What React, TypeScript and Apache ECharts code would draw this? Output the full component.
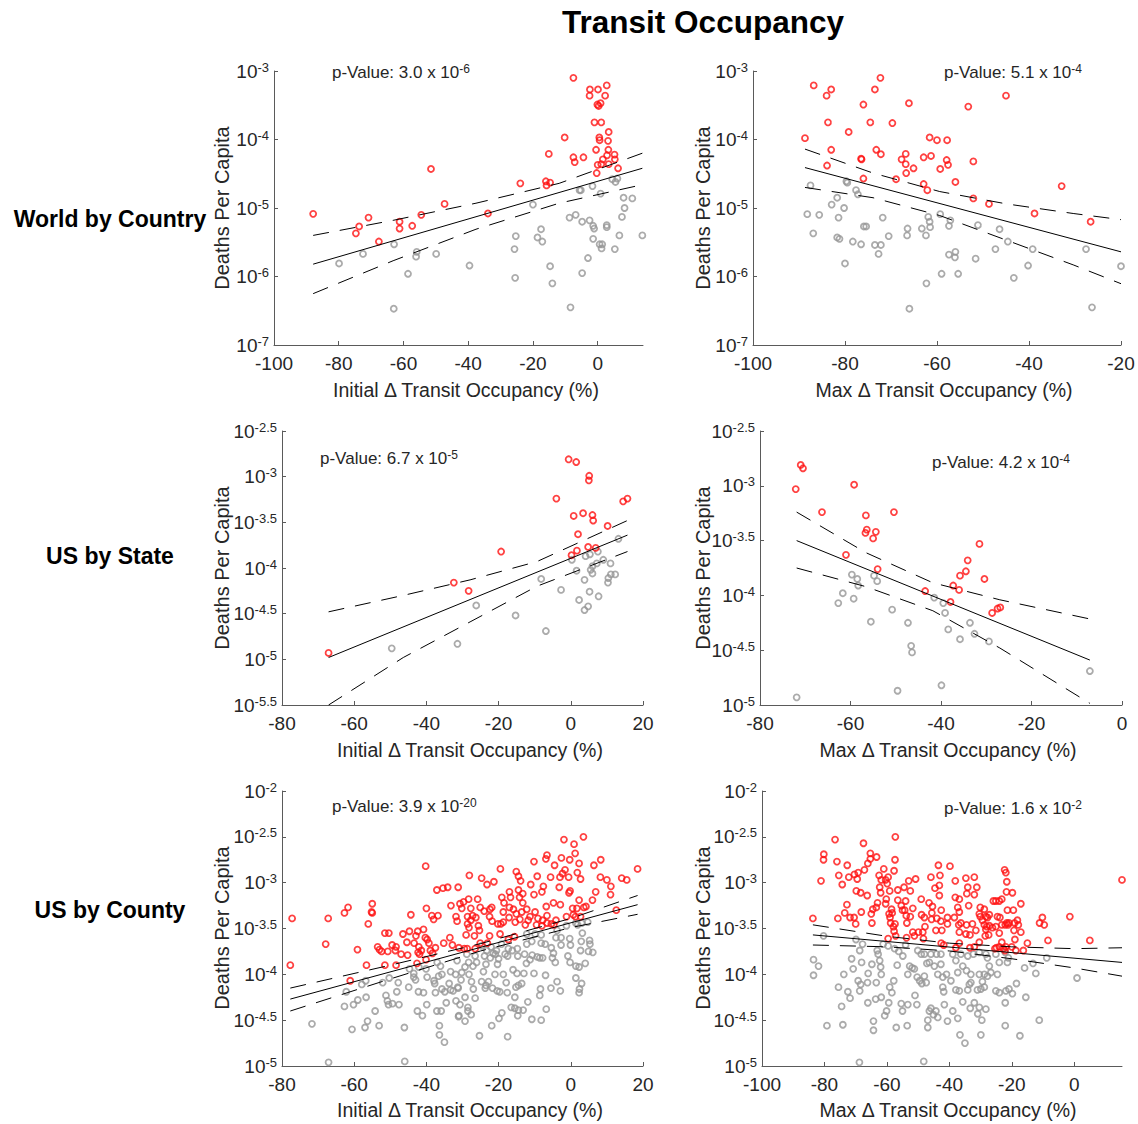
import React, { useEffect, useRef } from "react";
import * as echarts from "echarts";

// Points are [Δ transit occupancy (%), log10(deaths per capita)].
// "Above" points sit over the regression line (red), "Below" under it (gray).

// ---------- World by Country, initial change ----------
const countryInitialAbove = [
  [-87.9, -5.085], [-73.7, -5.27], [-74.7, -5.37], [-70.8, -5.14], [-67.6, -5.49], [-61.2, -5.2], [-61.2, -5.3],
  [-57.3, -5.26], [-54.5, -5.1], [-51.5, -4.43], [-47.3, -4.94], [-33.9, -5.08], [-23.9, -4.64], [-16.0, -4.61],
  [-15.8, -4.67], [-14.7, -4.63], [-15.1, -4.21], [-10.2, -3.97], [-7.5, -3.1], [-7.5, -4.26], [-7.1, -4.33],
  [-4.4, -4.26], [-2.4, -3.27], [-2.5, -3.36], [0.1, -3.27], [2.8, -3.21], [2.3, -3.36], [-0.1, -3.49], [0.3, -3.51],
  [0.9, -3.47], [-1.0, -3.75], [1.1, -3.75], [0.5, -3.97], [0.6, -4.01], [3.4, -3.89], [3.2, -4.02], [-0.5, -4.15],
  [3.3, -4.15], [5.2, -4.22], [2.9, -4.23], [1.6, -4.29], [5.3, -4.29], [0.0, -4.37], [1.1, -4.36], [3.4, -4.36],
  [-0.3, -4.49], [6.3, -4.42],
];
const countryInitialBelow = [
  [-79.9, -5.81], [-72.5, -5.67], [-62.9, -5.53], [-63.0, -6.47], [-58.6, -5.96], [-55.9, -5.64], [-56.1, -5.71],
  [-49.9, -5.67], [-39.6, -5.84], [-25.7, -5.6], [-25.3, -5.41], [-25.5, -6.02], [-20.0, -4.95], [-18.6, -5.43],
  [-17.5, -5.31], [-17.1, -5.49], [-14.7, -5.85], [-14.0, -6.1], [-8.7, -5.14], [-6.8, -5.1], [-8.4, -6.45],
  [-5.6, -4.74], [-5.2, -4.74], [-4.8, -5.2], [-4.8, -5.95], [-3.0, -5.73], [-2.5, -5.18], [-1.6, -4.68],
  [-1.4, -5.26], [-1.1, -5.3], [-1.4, -5.45], [0.9, -4.79], [0.6, -5.53], [1.4, -5.53], [1.2, -5.59], [2.8, -5.25],
  [2.8, -5.28], [4.5, -4.58], [5.5, -4.62], [6.1, -4.57], [5.3, -5.6], [6.7, -5.4], [7.5, -5.13], [8.3, -5.0],
  [8.0, -4.85], [10.7, -4.86], [13.8, -5.4],
];
const countryInitialFit = [[-87.9, -5.82], [13.8, -4.42]];
const countryInitialUpper = [[-87.9, -5.4], [-63.2, -5.18], [-37.6, -4.93], [-11.9, -4.64], [13.8, -4.2]];
const countryInitialLower = [[-87.9, -6.25], [-63.2, -5.77], [-37.6, -5.31], [-11.9, -4.93], [13.8, -4.66]];

// ---------- World by Country, maximum change ----------
const countryMaxAbove = [
  [-88.7, -3.98], [-86.8, -3.21], [-84.0, -3.36], [-83.0, -3.27], [-83.7, -3.75], [-83.0, -4.15], [-83.9, -4.38],
  [-79.2, -3.89], [-76.0, -3.49], [-76.5, -4.28], [-76.4, -4.29], [-76.0, -4.57], [-74.5, -3.75], [-73.5, -3.27],
  [-72.3, -3.1], [-73.2, -4.15], [-72.2, -4.215], [-69.7, -3.76], [-68.9, -4.58], [-67.7, -4.29], [-66.8, -4.21],
  [-66.8, -4.36], [-66.7, -4.49], [-66.1, -3.47], [-65.1, -4.42], [-62.9, -4.26], [-62.9, -4.65], [-62.1, -4.74],
  [-61.6, -3.97], [-61.3, -4.24], [-60.0, -4.01], [-59.3, -4.43], [-57.8, -4.01], [-57.9, -4.3], [-57.6, -4.37],
  [-56.0, -4.62], [-53.2, -3.52], [-52.1, -4.32], [-52.1, -4.86], [-48.7, -4.94], [-45.0, -3.36], [-38.8, -5.08],
  [-32.9, -4.68], [-26.6, -5.2],
];
const countryMaxBelow = [
  [-87.5, -4.67], [-88.2, -5.09], [-86.9, -5.37], [-85.6, -5.1], [-82.9, -4.95], [-81.7, -4.85], [-81.4, -5.14],
  [-81.7, -5.43], [-81.2, -5.45], [-80.2, -5.0], [-80.0, -5.81], [-79.7, -4.61], [-79.5, -4.63], [-78.3, -5.49],
  [-77.6, -4.74], [-77.2, -4.8], [-76.5, -5.53], [-75.9, -5.27], [-75.4, -5.27], [-73.5, -5.54], [-72.7, -5.67],
  [-72.2, -5.54], [-71.8, -5.14], [-70.5, -5.41], [-66.4, -5.3], [-66.5, -5.4], [-66.0, -6.47], [-63.3, -5.3],
  [-62.4, -5.4], [-62.3, -6.1], [-61.9, -5.13], [-61.6, -5.2], [-61.5, -5.28], [-59.3, -5.09], [-59.0, -5.96],
  [-57.1, -5.18], [-57.4, -5.26], [-57.4, -5.68], [-56.1, -5.72], [-56.0, -5.64], [-55.4, -5.96], [-51.6, -5.74],
  [-51.1, -5.25], [-47.3, -5.6], [-46.4, -5.31], [-44.6, -5.49], [-43.3, -6.02], [-40.2, -5.84], [-39.2, -5.6],
  [-27.6, -5.6], [-26.3, -6.45], [-20.0, -5.85],
];
const countryMaxFit = [[-88.7, -4.41], [-20, -5.64]];
const countryMaxUpper = [[-88.7, -4.14], [-73.9, -4.49], [-59.4, -4.76], [-44.9, -4.94], [-30.4, -5.08], [-20, -5.17]];
const countryMaxLower = [[-88.7, -4.7], [-73.9, -4.85], [-59.4, -5.11], [-44.9, -5.47], [-30.4, -5.83], [-20, -6.105]];

// ---------- US by State, initial change ----------
const stateInitialAbove = [
  [-67.1, -4.93], [-32.4, -4.16], [-28.3, -4.25], [-19.3, -3.82], [-4.0, -3.24], [-0.6, -2.81], [1.5, -2.84],
  [5.1, -2.99], [5.0, -3.04], [0.8, -3.43], [3.4, -3.4], [6.0, -3.42], [6.2, -3.48], [10.2, -3.54], [14.5, -3.27],
  [15.7, -3.24], [2.0, -3.63], [1.7, -3.81], [0.2, -3.86], [4.8, -3.77], [6.9, -3.78],
];
const stateInitialBelow = [
  [-49.6, -4.88], [-31.4, -4.83], [-26.2, -4.41], [-15.3, -4.52], [-8.2, -4.12], [-6.9, -4.69], [-2.7, -4.24],
  [0.3, -3.91], [1.6, -4.03], [3.8, -4.13], [2.3, -4.35], [3.8, -4.46], [4.8, -4.42], [5.2, -4.26], [4.1, -3.87],
  [5.3, -3.85], [7.5, -3.82], [5.5, -4.02], [6.0, -3.98], [6.0, -4.06], [7.2, -3.95], [9.0, -3.91], [11.0, -3.95],
  [7.7, -4.31], [10.4, -4.11], [10.3, -4.16], [11.1, -4.07], [12.3, -4.07], [13.2, -3.68],
];
const stateInitialFit = [[-67.1, -4.98], [15.7, -3.64]];
const stateInitialUpper = [[-67.1, -4.48], [-46.4, -4.3], [-27.9, -4.13], [-9.4, -3.93], [15.7, -3.48]];
const stateInitialLower = [[-67.1, -5.5], [-46.4, -4.98], [-27.9, -4.59], [-9.4, -4.2], [15.7, -3.82]];

// ---------- US by State, maximum change ----------
const stateMaxAbove = [
  [-72.1, -3.03], [-71.0, -2.81], [-70.5, -2.84], [-66.3, -3.24], [-59.2, -2.99], [-56.6, -3.27], [-56.4, -3.4],
  [-56.7, -3.43], [-54.4, -3.42], [-55.0, -3.48], [-50.4, -3.24], [-61.0, -3.63], [-54.0, -3.76], [-43.5, -3.96],
  [-37.9, -4.06], [-37.3, -3.91], [-36.0, -3.95], [-35.8, -3.82], [-34.5, -3.78], [-34.1, -3.68], [-31.5, -3.53],
  [-30.4, -3.85], [-28.7, -4.16], [-27.5, -4.12], [-26.9, -4.11],
];
const stateMaxBelow = [
  [-71.9, -4.93], [-62.7, -4.07], [-61.7, -3.98], [-59.7, -3.81], [-59.3, -4.03], [-58.5, -3.85], [-58.3, -3.91],
  [-55.5, -4.24], [-54.8, -3.82], [-54.1, -3.87], [-50.8, -4.13], [-49.6, -4.87], [-47.3, -4.25], [-46.6, -4.46],
  [-46.4, -4.52], [-41.5, -4.02], [-39.9, -4.82], [-39.5, -4.07], [-39.1, -4.16], [-38.4, -4.31], [-35.8, -4.4],
  [-33.6, -4.25], [-32.6, -4.35], [-29.4, -4.42], [-7.1, -4.69],
];
const stateMaxFit = [[-71.9, -3.5], [-7.1, -4.59]];
const stateMaxUpper = [[-71.9, -3.24], [-56.6, -3.61], [-41.8, -3.885], [-27.0, -4.04], [-7.1, -4.215]];
const stateMaxLower = [[-71.9, -3.75], [-56.6, -3.92], [-41.8, -4.14], [-27.0, -4.48], [-7.1, -4.985]];

// ---------- US by County, initial change ----------
const countyInitialAbove = [
  [-77.7, -3.9], [-77.2, -3.39], [-67.9, -3.67], [-67.2, -3.39], [-62.7, -3.33], [-61.7, -3.27], [-61.1, -4.07],
  [-59.1, -3.73], [-56.6, -3.9], [-56.1, -3.45], [-55.2, -3.32], [-55.0, -3.23], [-55.0, -3.33], [-53.5, -3.7],
  [-53.0, -3.73], [-52.4, -3.75], [-51.5, -3.55], [-50.4, -3.55], [-50.7, -3.75], [-51.5, -3.9], [-49.5, -3.68],
  [-48.4, -3.7], [-48.6, -3.74], [-48.4, -3.9], [-47.0, -3.78], [-46.5, -3.56], [-45.4, -3.65], [-45.2, -3.79],
  [-44.7, -3.53], [-44.3, -3.35], [-43.4, -3.66], [-42.9, -3.58], [-42.4, -3.53], [-42.1, -3.7], [-42.3, -3.76],
  [-42.6, -3.88], [-41.9, -3.78], [-41.4, -3.74], [-40.8, -3.51], [-40.2, -2.82], [-40.0, -3.28], [-40.3, -3.6],
  [-39.8, -3.62], [-40.1, -3.84], [-39.3, -3.66], [-38.5, -3.36], [-38.9, -3.74], [-38.3, -3.77], [-38.0, -3.4],
  [-37.5, -3.71], [-37.1, -3.08], [-36.8, -3.36], [-35.4, -3.06], [-35.2, -3.66], [-34.1, -3.05], [-33.5, -3.6],
  [-33.2, -3.25], [-32.8, -3.68], [-31.8, -3.37], [-31.5, -3.42], [-31.2, -3.05], [-31.0, -3.71],
  [-28.1, -2.92], [-24.7, -2.95], [-23.2, -3.02], [-21.3, -2.99], [-19.5, -2.85], [-15.1, -2.88], [-14.5, -2.93],
  [-13.9, -2.98], [-10.2, -2.77], [-9.3, -2.93], [-11.1, -3.02], [-10.2, -3.13], [-7.6, -3.04], [-8.0, -3.1],
  [-6.9, -2.74], [-6.6, -2.7], [-4.5, -2.81], [-5.6, -2.94], [-2.6, -2.73], [-1.9, -2.53], [0.9, -2.58],
  [3.5, -2.5], [1.2, -2.68], [-0.3, -2.75], [2.3, -2.79], [1.8, -2.89], [2.7, -2.96], [-1.6, -2.86], [-2.3, -2.9],
  [-3.0, -2.94], [-3.2, -3.05], [-0.6, -2.94], [-0.2, -3.09], [-0.5, -3.11], [6.4, -2.81], [8.3, -2.75],
  [8.2, -2.94], [10.0, -2.97], [11.1, -3.04], [11.0, -3.13], [14.1, -2.95], [15.5, -2.97], [18.5, -2.85],
  [12.6, -3.3], [6.9, -3.1], [6.0, -3.19], [4.2, -3.26], [2.3, -3.19], [1.7, -3.28], [2.7, -3.37], [0.5, -3.28],
  [0.7, -3.35], [-1.2, -3.37], [-2.9, -3.24], [-4.8, -3.22], [-6.8, -3.26], [-4.1, -3.41], [-5.4, -3.45],
  [-6.6, -3.36], [-7.8, -3.41], [-9.5, -3.46], [-8.0, -3.47], [-9.1, -3.39], [-9.9, -3.32], [-11.3, -3.37],
  [-11.8, -3.41], [-12.6, -3.46], [-12.2, -3.29], [-13.6, -3.32], [-13.3, -3.22], [-14.2, -3.16], [-13.3, -3.12],
  [-14.5, -3.08], [-17.0, -3.1], [-16.7, -3.16], [-18.5, -3.22], [-19.1, -3.16], [-17.0, -3.27], [-15.9, -3.29],
  [-15.1, -3.34], [-14.1, -3.4], [-15.4, -3.43], [-17.1, -3.38], [-18.7, -3.32], [-20.2, -3.45], [-19.4, -3.45],
  [-18.7, -3.43], [-21.8, -3.42], [-22.5, -3.37], [-24.0, -3.31], [-21.9, -3.27], [-22.4, -3.29], [-25.1, -3.27],
  [-25.8, -3.18], [-28.3, -3.18], [-29.7, -3.21], [-30.7, -3.23], [-30.2, -3.28], [-27.7, -3.28], [-27.2, -3.36],
  [-28.6, -3.37], [-27.7, -3.41], [-26.3, -3.38], [-25.6, -3.47], [-28.6, -3.45], [-28.2, -3.49], [-29.0, -3.57],
  [-26.7, -3.58], [-25.3, -3.52], [-22.5, -3.58], [-19.6, -3.56], [-17.3, -3.62], [-15.6, -3.59], [-25.1, -3.66],
  [-23.1, -3.66], [-26.5, -3.72], [-29.5, -3.72], [-28.7, -3.72], [-6.6, -3.44], [-4.7, -3.46], [1.3, -3.37],
  [3.6, -3.27],
];
const countyInitialBelow = [
  [-71.7, -4.54], [-67.1, -4.96], [-62.7, -4.35], [-62.2, -4.19], [-60.6, -4.6], [-60.2, -4.33], [-59.0, -4.28],
  [-57.9, -4.11], [-56.8, -4.07], [-56.7, -4.25], [-57.0, -4.58], [-56.3, -4.51], [-54.2, -4.4], [-53.1, -4.56],
  [-52.1, -4.09], [-51.2, -4.23], [-50.8, -4.29], [-50.5, -4.33], [-50.3, -4.04], [-49.4, -4.32], [-48.2, -4.19],
  [-47.8, -4.09], [-47.6, -4.33], [-46.1, -4.58], [-46.0, -4.95], [-44.9, -4.14], [-44.7, -3.94], [-43.5, -3.99],
  [-43.5, -4.03], [-43.0, -4.06], [-42.5, -4.4], [-42.2, -4.19], [-42.1, -3.92], [-41.1, -4.45], [-40.8, -4.2],
  [-40.1, -3.94], [-39.8, -4.03], [-39.9, -4.33], [-37.9, -4.07], [-37.7, -4.1], [-37.5, -4.2], [-37.1, -4.4],
  [-35.9, -4.4], [-36.4, -4.56], [-36.4, -4.66], [-35.0, -4.74], [-37.0, -3.87], [-36.1, -3.91], [-36.6, -4.02],
  [-35.7, -4.0], [-35.7, -4.16], [-34.9, -4.19], [-34.5, -4.31], [-33.7, -4.1], [-33.3, -3.97], [-33.3, -4.17],
  [-32.6, -4.18], [-31.9, -4.0], [-31.5, -3.85], [-31.2, -4.15], [-31.0, -4.45], [-31.8, -4.29],
  [-25.3, -4.67], [-17.5, -4.68], [-21.9, -4.56], [-19.9, -4.48], [-29.3, -4.51], [-27.6, -4.44], [-31.1, -4.46],
  [-30.7, -4.33], [-28.5, -4.4], [-28.5, -4.36], [-26.5, -4.26], [-29.3, -4.25], [-27.0, -4.16], [-27.5, -4.08],
  [-28.2, -4.0], [-29.3, -3.92], [-27.1, -3.91], [-28.3, -3.87], [-30.2, -3.98], [-30.4, -4.06], [-31.3, -4.14],
  [-28.8, -3.78], [-24.2, -3.97], [-24.7, -4.08], [-23.5, -4.12], [-22.8, -4.08], [-23.7, -4.15], [-21.7, -4.15],
  [-20.4, -4.18], [-19.7, -4.19], [-17.6, -4.2], [-19.1, -4.42], [-15.5, -4.37], [-16.5, -4.36], [-14.5, -4.39],
  [-13.2, -4.39], [-11.9, -4.3], [-14.7, -4.45], [-10.8, -4.49], [-8.2, -4.5], [-6.8, -4.38], [-8.6, -4.23],
  [-8.4, -4.16], [-5.5, -4.15], [-2.9, -4.18], [-3.8, -4.08], [-7.0, -4.01], [-10.2, -3.99], [-13.0, -3.99],
  [-13.6, -4.1], [-14.5, -4.12], [-15.2, -4.14], [-15.5, -4.25], [-16.0, -3.95], [-14.9, -3.99], [-18.7, -4.0],
  [-17.9, -4.09], [-21.0, -4.0], [-20.3, -3.89], [-20.0, -3.83], [-23.5, -3.89], [-22.3, -3.82], [-21.5, -3.77],
  [-20.6, -3.74], [-23.9, -3.8], [-26.5, -3.8], [-26.1, -3.87], [-18.2, -3.78], [-17.5, -3.8], [-17.3, -3.72],
  [-16.2, -3.74], [-14.8, -3.72], [-14.7, -3.8], [-12.8, -3.78], [-12.3, -3.88], [-11.3, -3.84], [-10.7, -3.79],
  [-12.2, -3.67], [-10.8, -3.64], [-9.3, -3.81], [-8.6, -3.82], [-7.8, -3.82], [-8.2, -3.66], [-7.1, -3.67],
  [-5.4, -3.71], [-4.8, -3.77], [-5.1, -3.82], [-4.3, -3.87], [-2.7, -3.68], [-2.7, -3.6], [-3.8, -3.52],
  [-4.1, -3.6], [-1.2, -3.47], [-0.8, -3.8], [-0.1, -3.68], [-0.2, -3.87], [1.4, -3.91], [2.3, -3.92],
  [1.4, -4.04], [3.0, -4.1], [2.4, -4.16], [2.3, -4.2], [2.7, -3.74], [2.9, -3.64], [3.2, -3.55], [1.9, -3.46],
  [1.4, -3.44], [3.0, -3.44], [4.0, -3.88], [4.9, -3.75], [5.3, -3.67], [5.2, -3.63], [6.1, -3.76], [4.7, -3.43],
  [-0.3, -3.61], [-22.1, -3.7], [-24.7, -3.69], [-23.3, -3.74], [-20.9, -3.78], [-19.2, -3.67], [-12.2, -3.56],
  [-9.9, -3.56], [-8.2, -3.57],
];
const countyInitialFit = [[-77.7, -4.27], [18.5, -3.24]];
const countyInitialUpper = [[-77.7, -4.15], [-50, -3.9], [-25, -3.665], [0, -3.39], [18.5, -3.14]];
const countyInitialLower = [[-77.7, -4.4], [-50, -4.05], [-25, -3.745], [0, -3.49], [18.5, -3.345]];

// ---------- US by County, maximum change ----------
const countyMaxAbove = [
  [-83.7, -3.39], [-81.1, -2.98], [-80.2, -2.69], [-80.3, -2.75], [-76.6, -2.53], [-76.0, -2.77], [-75.7, -3.39],
  [-75.4, -2.92], [-74.3, -3.02], [-72.8, -3.24], [-73.5, -3.33], [-72.7, -2.81], [-72.2, -2.94], [-71.8, -3.38],
  [-70.5, -3.38], [-70.0, -3.45], [-70.4, -2.91], [-69.5, -2.96], [-69.2, -2.89], [-69.8, -3.09], [-68.4, -3.11],
  [-68.2, -3.32], [-67.5, -2.57], [-67.2, -2.86], [-66.3, -3.14], [-66.1, -2.79], [-65.3, -2.68], [-65.3, -2.74],
  [-65.0, -3.34], [-64.8, -3.44], [-64.5, -3.29], [-63.3, -2.72], [-63.0, -3.22], [-63.4, -3.27], [-62.5, -2.92],
  [-62.3, -3.05], [-62.0, -3.11], [-61.8, -2.97], [-61.0, -2.85], [-60.4, -2.97], [-59.6, -2.94], [-59.9, -3.01],
  [-59.1, -3.09], [-60.2, -3.18], [-60.4, -3.23], [-59.3, -3.34], [-59.0, -3.38], [-58.8, -3.44], [-57.9, -3.48],
  [-57.7, -3.53], [-57.4, -3.45], [-57.4, -2.75], [-57.3, -2.5], [-57.7, -2.87], [-56.5, -3.08], [-56.5, -3.19],
  [-57.2, -3.58], [-59.6, -3.61], [-58.5, -3.29], [-58.3, -3.33], [-55.4, -3.25], [-55.0, -3.3], [-54.5, -3.05],
  [-54.3, -3.3], [-54.0, -3.2], [-53.6, -3.44], [-53.8, -3.36], [-53.7, -3.6], [-53.0, -2.98], [-52.5, -3.09],
  [-51.7, -3.28], [-52.5, -3.37], [-51.7, -3.54], [-50.8, -2.96], [-51.2, -3.58], [-49.9, -3.54], [-49.0, -3.18],
  [-48.5, -3.54], [-48.3, -3.61], [-48.9, -3.35], [-48.0, -3.38], [-47.8, -3.48], [-46.5, -3.22], [-45.4, -3.26],
  [-45.9, -2.94], [-43.5, -2.81], [-43.0, -2.92], [-43.2, -3.03], [-43.2, -3.14], [-44.6, -3.06], [-45.6, -3.33],
  [-45.7, -3.4], [-44.3, -3.52], [-44.0, -3.39], [-42.7, -3.42], [-42.6, -3.3], [-42.4, -3.52], [-42.6, -3.66],
  [-41.8, -3.68], [-40.6, -3.45], [-39.8, -2.82], [-40.6, -3.38],
  [-38.1, -2.98], [-38.1, -3.16], [-36.8, -3.18], [-34.7, -2.95], [-34.1, -3.05], [-34.4, -3.12], [-33.8, -3.25],
  [-32.0, -2.94], [-31.2, -3.05], [-32.0, -3.13], [-37.3, -3.27], [-36.8, -3.32], [-38.4, -3.38], [-36.3, -3.44],
  [-37.0, -3.46], [-34.5, -3.46], [-32.6, -3.45], [-34.7, -3.56], [-33.4, -3.57], [-36.8, -3.54], [-36.8, -3.66],
  [-37.9, -3.71], [-33.4, -3.71], [-32.0, -3.7], [-30.4, -3.65], [-31.5, -3.52], [-30.1, -3.27], [-30.4, -3.34],
  [-30.1, -3.37], [-29.4, -3.41], [-28.8, -3.29], [-28.3, -3.37], [-27.8, -3.38], [-27.2, -3.35], [-28.8, -3.46],
  [-28.3, -3.51], [-28.0, -3.48], [-27.4, -3.57], [-28.5, -3.58], [-27.2, -3.47], [-25.9, -3.2], [-25.1, -3.2],
  [-24.0, -3.2], [-23.2, -3.18], [-26.2, -3.49], [-25.1, -3.48], [-24.6, -3.37], [-23.8, -3.38], [-23.2, -3.46],
  [-24.0, -3.55], [-23.2, -3.65], [-24.9, -3.71], [-24.0, -3.7], [-25.4, -3.72], [-22.7, -3.72], [-21.9, -3.7],
  [-22.2, -3.74], [-22.1, -3.46], [-21.6, -3.44], [-21.2, -3.46], [-21.9, -2.89], [-22.3, -2.86], [-21.6, -2.99],
  [-21.7, -3.1], [-21.4, -3.3], [-20.9, -3.44], [-19.8, -3.11], [-19.5, -3.3], [-19.1, -3.44], [-19.3, -3.52],
  [-19.0, -3.62], [-20.0, -3.7], [-18.7, -3.74], [-18.2, -3.41], [-17.9, -3.46], [-17.1, -3.54], [-17.1, -3.23],
  [-16.3, -3.74], [-15.0, -3.66], [-10.2, -3.38], [-11.1, -3.44], [-9.6, -3.46], [-8.4, -3.63], [-1.4, -3.37],
  [5.0, -3.63], [15.3, -2.97],
];
const countyMaxBelow = [
  [-83.5, -3.84], [-81.9, -3.91], [-83.5, -4.01], [-80.3, -3.58], [-79.2, -4.56], [-75.5, -4.14], [-74.5, -4.35],
  [-73.8, -4.0], [-74.1, -4.55], [-72.5, -4.19], [-71.8, -4.26], [-71.3, -3.83], [-70.8, -3.94], [-69.9, -3.62],
  [-69.2, -4.07], [-68.7, -4.18], [-68.4, -4.11], [-68.8, -4.96], [-68.7, -3.74], [-68.1, -3.87], [-67.8, -3.67],
  [-66.2, -4.09], [-66.0, -3.99], [-66.1, -4.31], [-64.8, -3.89], [-64.3, -4.61], [-64.3, -4.51], [-63.6, -4.27],
  [-63.4, -4.09], [-63.1, -3.74], [-62.8, -3.78], [-62.0, -3.92], [-61.8, -4.0], [-62.3, -3.85], [-61.8, -4.25],
  [-60.7, -4.45], [-60.1, -4.4], [-59.4, -4.31], [-59.1, -4.14], [-58.4, -4.2], [-57.8, -4.07], [-57.0, -4.58],
  [-56.7, -3.9], [-57.5, -3.72], [-56.2, -3.75], [-54.9, -3.8], [-55.4, -4.32], [-55.0, -4.4], [-53.5, -4.56],
  [-53.3, -4.33], [-54.0, -3.68], [-52.7, -3.91], [-51.9, -3.93], [-51.2, -3.94], [-51.0, -4.23], [-50.4, -4.33],
  [-50.3, -4.03], [-49.5, -4.07], [-48.8, -4.1], [-48.0, -4.02], [-47.4, -4.09], [-46.9, -4.58], [-46.9, -4.5],
  [-46.4, -4.4], [-45.9, -4.37], [-45.1, -4.44], [-44.3, -4.4], [-43.7, -4.47], [-42.1, -4.14], [-41.8, -4.19],
  [-41.6, -4.33], [-40.6, -4.51], [-48.2, -4.95], [-42.1, -4.03], [-43.7, -4.0], [-44.8, -3.91], [-42.7, -3.89],
  [-40.9, -4.0], [-45.9, -3.78], [-44.1, -3.78], [-42.7, -3.78], [-50.1, -3.74], [-49.0, -3.78], [-48.0, -3.78],
  [-47.2, -3.88], [-46.4, -3.87], [-61.2, -3.67], [-59.6, -3.69], [-53.3, -4.0],
  [-36.6, -4.66], [-35.0, -4.75], [-29.9, -4.66], [-37.3, -4.48], [-35.7, -4.3], [-38.9, -4.4], [-33.3, -4.37],
  [-32.0, -4.31], [-30.9, -4.43], [-30.4, -4.36], [-29.6, -4.5], [-28.3, -4.38], [-37.9, -4.17], [-36.8, -4.18],
  [-34.1, -4.17], [-33.6, -4.11], [-33.1, -4.09], [-31.0, -4.17], [-29.9, -4.16], [-28.8, -4.14], [-29.4, -4.08],
  [-30.4, -4.0], [-28.8, -4.0], [-27.8, -4.02], [-26.7, -3.98], [-24.6, -4.0], [-25.1, -4.18], [-24.0, -4.2],
  [-21.9, -4.18], [-20.9, -4.16], [-19.8, -4.21], [-18.5, -4.1], [-22.1, -4.31], [-22.1, -4.56], [-17.4, -4.67],
  [-15.5, -4.25], [-11.2, -4.5], [-15.9, -3.93], [-12.3, -3.99], [-13.2, -3.88], [-8.8, -3.82], [0.9, -4.04],
  [-21.1, -3.82], [-24.0, -3.87], [-27.2, -3.91], [-27.8, -3.82], [-30.4, -3.76], [-32.3, -3.78], [-34.1, -3.8],
  [-36.3, -3.78], [-37.9, -3.85], [-37.3, -3.98], [-35.7, -3.91], [-34.5, -3.96], [-33.1, -4.0], [-39.5, -4.07],
  [-38.9, -3.78], [-25.1, -3.78], [-28.3, -3.78], [-21.4, -3.87], [-22.1, -3.76],
];
const countyMaxFit = [[-83.7, -3.57], [15.3, -3.87]];
const countyMaxUpper = [[-83.7, -3.46], [-60, -3.585], [-40, -3.66], [-20, -3.7], [0, -3.72], [15.3, -3.71]];
const countyMaxLower = [[-83.7, -3.68], [-60, -3.7], [-40, -3.745], [-20, -3.83], [0, -3.93], [15.3, -4.02]];

// ---------- axis ranges, tick values and annotations ----------
const xMins = [-100, -100, -80, -80, -80, -100];
const xMaxs = [14, -20, 20, 0, 20, 15.3];
const xTicks = [
  [-100, -80, -60, -40, -20, 0],
  [-100, -80, -60, -40, -20],
  [-80, -60, -40, -20, 0, 20],
  [-80, -60, -40, -20, 0],
  [-80, -60, -40, -20, 0, 20],
  [-100, -80, -60, -40, -20, 0],
];
const yMins = [-7, -7, -5.5, -5, -5, -5];
const yMaxs = [-3, -3, -2.5, -2.5, -2, -2];
const ySteps = [1, 1, 0.5, 0.5, 0.5, 0.5];
const xTitles = [
  "Initial Δ Transit Occupancy (%)",
  "Max Δ Transit Occupancy (%)",
  "Initial Δ Transit Occupancy (%)",
  "Max Δ Transit Occupancy (%)",
  "Initial Δ Transit Occupancy (%)",
  "Max Δ Transit Occupancy (%)",
];
const pMantissas = ["3.0", "5.1", "6.7", "4.2", "3.9", "1.6"];
const pExponents = [-6, -4, -5, -4, -20, -2];
const rowLabels = ["World by Country", "US by State", "US by County"];

const panelData = [
  { above: countryInitialAbove, below: countryInitialBelow, fit: countryInitialFit, upper: countryInitialUpper, lower: countryInitialLower },
  { above: countryMaxAbove, below: countryMaxBelow, fit: countryMaxFit, upper: countryMaxUpper, lower: countryMaxLower },
  { above: stateInitialAbove, below: stateInitialBelow, fit: stateInitialFit, upper: stateInitialUpper, lower: stateInitialLower },
  { above: stateMaxAbove, below: stateMaxBelow, fit: stateMaxFit, upper: stateMaxUpper, lower: stateMaxLower },
  { above: countyInitialAbove, below: countyInitialBelow, fit: countyInitialFit, upper: countyInitialUpper, lower: countyInitialLower },
  { above: countyMaxAbove, below: countyMaxBelow, fit: countyMaxFit, upper: countyMaxUpper, lower: countyMaxLower },
];

// ---------- layout (pixels) ----------
const panelBoxes = [
  { left: 274, top: 71, width: 369, height: 274, xTitle: [466, 390], yTitle: [222, 208], pVal: [332, 72] },
  { left: 753, top: 71, width: 368, height: 274, xTitle: [944, 390], yTitle: [703, 208], pVal: [944, 72] },
  { left: 282, top: 431, width: 361, height: 274, xTitle: [470, 750], yTitle: [222, 568], pVal: [320, 458] },
  { left: 760, top: 431, width: 362, height: 274, xTitle: [948, 750], yTitle: [703, 568], pVal: [932, 462] },
  { left: 282, top: 791, width: 361, height: 275, xTitle: [470, 1110], yTitle: [222, 928], pVal: [332, 806] },
  { left: 762, top: 791, width: 360, height: 275, xTitle: [948, 1110], yTitle: [703, 928], pVal: [944, 808] },
];
const rowLabelPos = [[110, 219], [110, 556], [110, 910]];

const FONT = "'Liberation Sans', Arial, Helvetica, sans-serif";
const INK = "#262626";
const AXIS = "#5a5a5a";
const RED = "#ff1111";
const GRAY = "#969696";

function powerLabel(v: number) {
  const e = Math.round(v * 10) / 10;
  return `{b|10}{s|${e}}`;
}

function buildOption() {
  const grid: any[] = [];
  const xAxis: any[] = [];
  const yAxis: any[] = [];
  const series: any[] = [];
  const graphic: any[] = [];

  panelBoxes.forEach((box, i) => {
    grid.push({ left: box.left, top: box.top, width: box.width, height: box.height });
    xAxis.push({
      type: "value",
      gridIndex: i,
      min: xMins[i],
      max: xMaxs[i],
      axisLine: { show: true, onZero: false, lineStyle: { color: AXIS, width: 1 } },
      axisTick: { show: true, inside: true, length: 4, customValues: xTicks[i], lineStyle: { color: AXIS } },
      axisLabel: { customValues: xTicks[i], fontFamily: FONT, fontSize: 19, color: INK, margin: 9 },
      splitLine: { show: false },
    });
    yAxis.push({
      type: "value",
      gridIndex: i,
      min: yMins[i],
      max: yMaxs[i],
      interval: ySteps[i],
      axisLine: { show: true, onZero: false, lineStyle: { color: AXIS, width: 1 } },
      axisTick: { show: true, inside: true, length: 4, lineStyle: { color: AXIS } },
      axisLabel: {
        margin: 5,
        formatter: powerLabel,
        rich: {
          b: { fontFamily: FONT, fontSize: 19, color: INK, lineHeight: 21 },
          s: { fontFamily: FONT, fontSize: 13, color: INK, lineHeight: 13, verticalAlign: "top" },
        },
      },
      splitLine: { show: false },
    });

    const d = panelData[i];
    const scatterStyle = (c: string) => ({ color: "rgba(0,0,0,0)", borderColor: c, borderWidth: 1.8 });
    series.push({
      type: "scatter", xAxisIndex: i, yAxisIndex: i, data: d.below, symbol: "circle", symbolSize: 6,
      itemStyle: scatterStyle(GRAY), clip: false, silent: true, z: 2,
    });
    series.push({
      type: "scatter", xAxisIndex: i, yAxisIndex: i, data: d.above, symbol: "circle", symbolSize: 6,
      itemStyle: scatterStyle(RED), clip: false, silent: true, z: 3,
    });
    const lineSeries = (data: number[][], dashed: boolean) => ({
      type: "line", xAxisIndex: i, yAxisIndex: i, data, symbol: "none", showSymbol: false, silent: true, z: 4,
      lineStyle: { color: "#000", width: 1, type: dashed ? [16, 11] : "solid" },
    });
    series.push(lineSeries(d.fit, false));
    series.push(lineSeries(d.upper, true));
    series.push(lineSeries(d.lower, true));

    graphic.push({
      type: "text", x: box.xTitle[0], y: box.xTitle[1],
      style: { text: xTitles[i], fontFamily: FONT, fontSize: 19.5, fill: INK, align: "center", verticalAlign: "middle" },
    });
    graphic.push({
      type: "text", x: box.yTitle[0], y: box.yTitle[1], rotation: Math.PI / 2,
      style: { text: "Deaths Per Capita", fontFamily: FONT, fontSize: 20, fill: INK, align: "center", verticalAlign: "middle" },
    });
    graphic.push({
      type: "text", x: box.pVal[0], y: box.pVal[1],
      style: {
        text: `{b|p-Value: ${pMantissas[i]} x 10}{s|${pExponents[i]}}`,
        align: "left",
        verticalAlign: "middle",
        rich: {
          b: { fontFamily: FONT, fontSize: 17, fill: INK, color: INK, lineHeight: 19 },
          s: { fontFamily: FONT, fontSize: 12, fill: INK, color: INK, lineHeight: 12, verticalAlign: "top" },
        },
      },
    });
  });

  rowLabels.forEach((t, r) => {
    graphic.push({
      type: "text", x: rowLabelPos[r][0], y: rowLabelPos[r][1],
      style: { text: t, fontFamily: FONT, fontSize: 23, fontWeight: "bold", fill: "#000", align: "center", verticalAlign: "middle" },
    });
  });
  graphic.push({
    type: "text", x: 703, y: 22,
    style: { text: "Transit Occupancy", fontFamily: FONT, fontSize: 31.5, fontWeight: "bold", fill: "#000", align: "center", verticalAlign: "middle" },
  });

  return { animation: false, backgroundColor: "#fff", grid, xAxis, yAxis, series, graphic };
}

export default function App() {
  const ref = useRef<HTMLDivElement>(null);
  useEffect(() => {
    if (!ref.current) return;
    const chart = echarts.init(ref.current, null, { renderer: "svg" });
    chart.setOption(buildOption() as any);
    return () => chart.dispose();
  }, []);
  return (
    <div
      ref={ref}
      style={{ position: "absolute", left: 0, top: 0, width: 1138, height: 1124, background: "#fff" }}
    />
  );
}
